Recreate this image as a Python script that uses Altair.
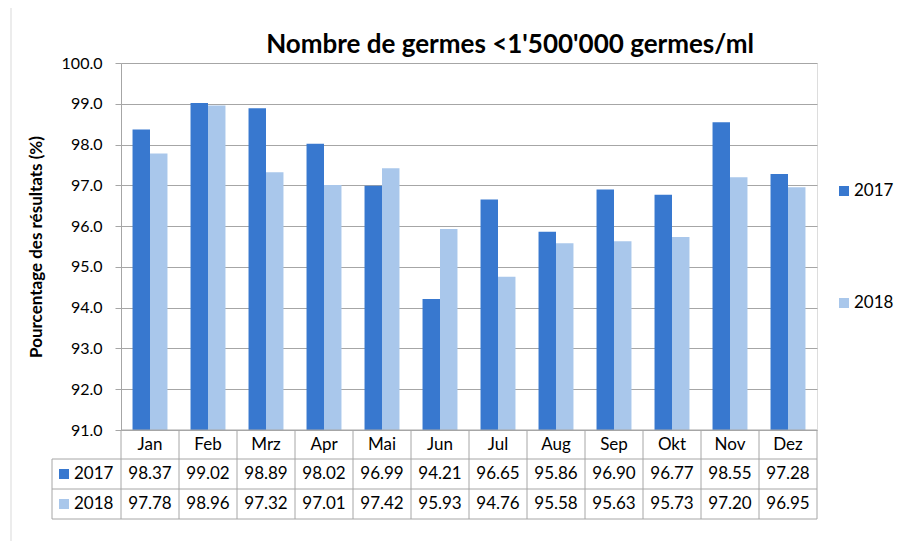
import altair as alt
import pandas as pd

months = ["Jan", "Feb", "Mrz", "Apr", "Mai", "Jun", "Jul", "Aug", "Sep", "Okt", "Nov", "Dez"]
years = ["2017", "2018"]
v2017 = [98.37, 99.02, 98.89, 98.02, 96.99, 94.21, 96.65, 95.86, 96.90, 96.77, 98.55, 97.28]
v2018 = [97.78, 98.96, 97.32, 97.01, 97.42, 95.93, 94.76, 95.58, 95.63, 95.73, 97.20, 96.95]
y_ticks = [91, 92, 93, 94, 95, 96, 97, 98, 99, 100]
title_text = "Nombre de germes <1'500'000 germes/ml"
y_title = "Pourcentage des résultats (%)"

colors = ["#3878CF", "#A9C7EB"]
grid_c = "#A6A6A6"
FONT = "Lato"
W, H = 696, 367

rows = []
for m, a, b in zip(months, v2017, v2018):
    rows.append({"month": m, "year": "2017", "value": a})
    rows.append({"month": m, "year": "2018", "value": b})
df = pd.DataFrame(rows)
one = pd.DataFrame({"k": [0]})
mdf = pd.DataFrame({"month": months})
ydf = pd.DataFrame({"year": years, "ypos": [411, 441], "legy": [128, 240]})

xm = alt.X("month:N", sort=months, axis=None,
           scale=alt.Scale(paddingInner=0, paddingOuter=0))
color = alt.Color("year:N", scale=alt.Scale(domain=years, range=colors), legend=None)

bars = alt.Chart(df).mark_bar().encode(
    x=xm,
    xOffset=alt.XOffset("year:N", scale=alt.Scale(paddingInner=0, paddingOuter=0.66)),
    y=alt.Y("value:Q", scale=alt.Scale(domain=[91, 100], zero=False, nice=False),
            axis=alt.Axis(values=y_ticks, format=".1f", title=y_title,
                          titleFont=FONT, titleFontSize=17, titleFontWeight="bold",
                          titleColor="black", titlePadding=16,
                          labelFont=FONT, labelFontSize=16, labelColor="black",
                          labelPadding=13, tickSize=6, tickColor=grid_c,
                          domainColor=grid_c, gridColor=grid_c, grid=True)),
    y2=alt.datum(91),
    color=color,
)

# table borders
hlines = alt.Chart(pd.DataFrame({"y": [396, 426, 456]})).mark_rule(color=grid_c).encode(
    x=alt.value(-69), x2=alt.value(W), y=alt.Y("y:Q", scale=None))
topline = alt.Chart(one).mark_rule(color=grid_c).encode(
    x=alt.value(0), x2=alt.value(W), y=alt.value(H))
vlines = alt.Chart(mdf).mark_rule(color=grid_c).encode(
    x=alt.X("month:N", sort=months, axis=None, bandPosition=0,
            scale=alt.Scale(paddingInner=0, paddingOuter=0)),
    y=alt.value(H), y2=alt.value(456))
rline = alt.Chart(one).mark_rule(color=grid_c).encode(
    x=alt.value(W), y=alt.value(H), y2=alt.value(456))
lline = alt.Chart(one).mark_rule(color=grid_c).encode(
    x=alt.value(-69), y=alt.value(396), y2=alt.value(456))

head = alt.Chart(mdf).mark_text(font=FONT, fontSize=17, color="black").encode(
    x=xm, y=alt.value(382), text="month:N")

cells = alt.Chart(df).mark_text(font=FONT, fontSize=17, color="black").encode(
    x=xm, y=alt.Y("ypos:Q", scale=None), text=alt.Text("value:Q", format=".2f")
).transform_lookup(lookup="year", from_=alt.LookupData(ydf, "year", ["ypos"]))

rowsym = alt.Chart(ydf).mark_point(shape="square", filled=True, size=100, opacity=1).encode(
    x=alt.value(-57), y=alt.Y("ypos:Q", scale=None), color=color)
rowlab = alt.Chart(ydf).mark_text(font=FONT, fontSize=17, color="black", align="left").encode(
    x=alt.value(-47), y=alt.Y("ypos:Q", scale=None), text="year:N")

legsym = alt.Chart(ydf).mark_point(shape="square", filled=True, size=100, opacity=1).encode(
    x=alt.value(723), y=alt.Y("legy:Q", scale=None), color=color)
leglab = alt.Chart(ydf).mark_text(font=FONT, fontSize=17, color="black", align="left").encode(
    x=alt.value(733), y=alt.Y("legy:Q", scale=None), text="year:N")

title = alt.Chart(one).mark_text(font=FONT, fontSize=26, fontWeight="bold", color="black").encode(
    x=alt.value(389), y=alt.value(-18), text=alt.value(title_text))

frame_top = alt.Chart(one).mark_rule(color="#D9D9D9").encode(
    x=alt.value(-110), x2=alt.value(W + 120), y=alt.value(-57))
frame_left = alt.Chart(one).mark_rule(color="#D9D9D9").encode(
    x=alt.value(-110), y=alt.value(-57), y2=alt.value(H + 130))

chart = alt.layer(
    frame_top, frame_left, bars, hlines, topline, vlines, rline, lline,
    head, cells, rowsym, rowlab, legsym, leglab, title
).properties(
    width=W, height=H,
    autosize=alt.AutoSizeParams(type="none"),
    padding={"left": 113, "top": 55, "right": 91, "bottom": 111},
).configure_view(strokeWidth=0).configure(background="white")

chart.save("out.html", embed_options={"renderer": "svg", "actions": False})
